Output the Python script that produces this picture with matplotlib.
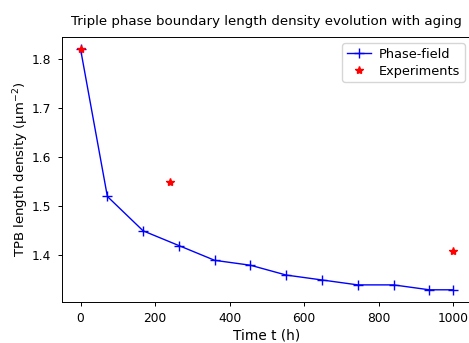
import matplotlib
matplotlib.use("Agg")
import matplotlib.pyplot as plt

# Datos
t_pf = [0, 72, 168, 264, 360, 456, 552, 648, 744, 840, 936, 1000]
tpb_pf = [1.82, 1.52, 1.45, 1.42, 1.39, 1.38, 1.36, 1.35, 1.34, 1.34, 1.33, 1.33]
t_exp = [0, 240, 1000]
tpb_exp = [1.82, 1.55, 1.41]

plt.rcParams['font.size'] = 8.8

fig = plt.figure(figsize=(4.69, 3.43), dpi=100)
ax = fig.add_axes([0.132, 0.12, 0.874, 0.772])

ax.plot(t_pf, tpb_pf, color="blue", marker="+", markersize=7, linewidth=1.0, label="Phase-field")
ax.plot(t_exp, tpb_exp, "r*", markersize=6, label="Experiments")

ax.set_title("Triple phase boundary length density evolution with aging", fontsize=9.6, pad=9)
ax.set_xlabel("Time t (h)", fontsize=9.8, labelpad=2)
ax.set_ylabel(r"TPB length density ($\mathrm{\mu m^{-2}}$)", fontsize=9.5, labelpad=0.5)
ax.set_xticks([0, 200, 400, 600, 800, 1000])
ax.set_yticks([1.4, 1.5, 1.6, 1.7, 1.8])
ax.tick_params(length=3, width=0.7, pad=4.5)
for s in ax.spines.values():
    s.set_linewidth(0.7)

ax.legend(loc="upper right", bbox_to_anchor=(0.983, 0.977), borderaxespad=0, fontsize=9.3,
          handlelength=1.9, borderpad=0.35, labelspacing=0.3, handletextpad=0.6, framealpha=0.8)

plt.savefig("out.png", dpi=100)
plt.close()
